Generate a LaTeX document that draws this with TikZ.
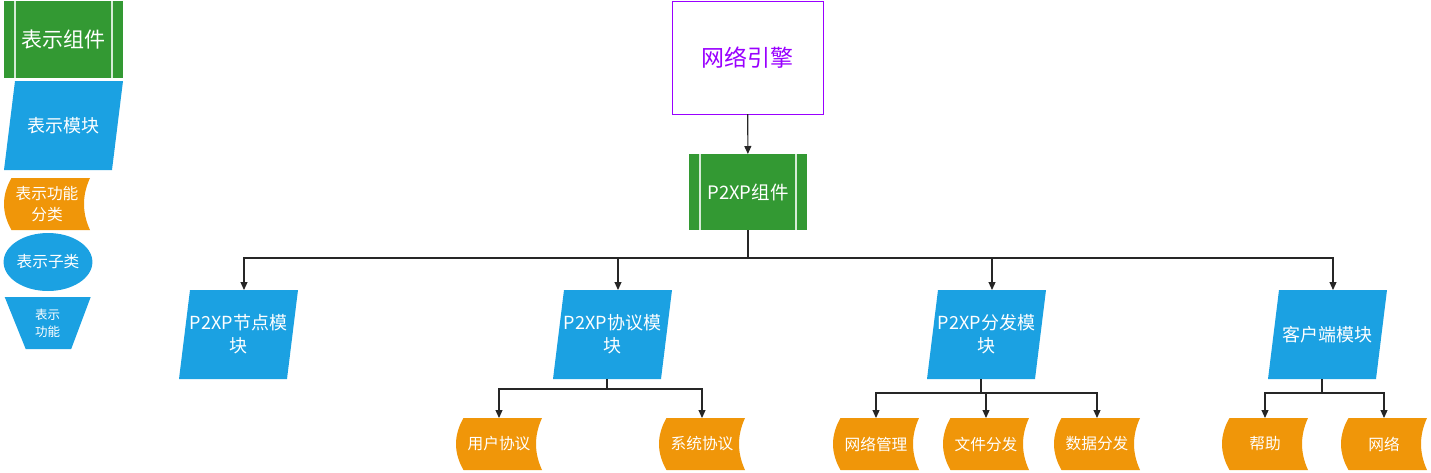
\documentclass[tikz,border=0pt]{standalone}
\usepackage{fontspec}
\setmainfont{Noto Sans CJK SC}
\usetikzlibrary{arrows.meta,shapes.geometric,calc}
\definecolor{cgreen}{HTML}{339933}
\definecolor{cblue}{HTML}{1BA1E2}
\definecolor{corange}{HTML}{F09609}
\definecolor{cpurple}{HTML}{9900FF}
\tikzset{
 base/.style={inner sep=0pt, outer sep=0pt, align=center, text=white},
 compbox/.style={base, fill=cgreen, path picture={\draw[white!80!cgreen, line width=1.5pt] let \p1=(path picture bounding box.north west), \p2=(path picture bounding box.south east) in (\x1+11pt,\y1) -- (\x1+11pt,\y2) (\x2-11pt,\y1) -- (\x2-11pt,\y2);}},
 modbox/.style={base, minimum width=119pt, minimum height=89pt, font=\fontsize{18}{23}\selectfont, path picture={\fill[cblue] let \p1=(path picture bounding box.north west), \p2=(path picture bounding box.south east) in (\x1+11pt,\y1) -- (\x2,\y1) -- (\x2-11pt,\y2) -- (\x1,\y2) -- cycle;}},
 storebox/.style={base, minimum width=86pt, minimum height=52pt, font=\fontsize{15.7}{21.7}\selectfont, path picture={\fill[corange] let \p1=(path picture bounding box.north west), \p2=(path picture bounding box.south east) in (\x1+7.5pt,\y1) -- (\x2,\y1) .. controls (\x2-8pt,\y1-17.3pt) and (\x2-8pt,\y2+17.3pt) .. (\x2,\y2) -- (\x1+7.5pt,\y2) .. controls (\x1-2.5pt,\y2+17.3pt) and (\x1-2.5pt,\y1-17.3pt) .. (\x1+7.5pt,\y1) -- cycle;}},
 subbox/.style={base, ellipse, fill=cblue, minimum width=88pt, minimum height=58pt, font=\fontsize{15.7}{20}\selectfont},
 funcbox/.style={base, minimum width=86pt, minimum height=52pt, font=\fontsize{12.5}{17}\selectfont, path picture={\fill[cblue] let \p1=(path picture bounding box.north west), \p2=(path picture bounding box.south east) in (\x1,\y1) -- (\x2,\y1) -- (\x2-19.5pt,\y2) -- (\x1+21pt,\y2) -- cycle;}},
 arr/.style={draw=black!85, line width=1.1pt, -{Triangle[width=7pt,length=8pt]}},
}
\begin{document}
\begin{tikzpicture}[x=1pt,y=-1pt]
\useasboundingbox (0,0) rectangle (1431,472);
% legend
\node[compbox, minimum width=119pt, minimum height=77pt, font=\fontsize{21}{25}\selectfont] (lg1) at (63.5,39.5) {表示组件};
\node[modbox] (lg2) at (63.5,125.5) {表示模块};
\node[storebox] (lg3) at (47,204) {表示功能\\分类};
\node[subbox] (lg4) at (48,262) {表示子类};
\node[funcbox] (lg5) at (47.7,323) {表示\\功能};
% main tree
\node[base, draw=cpurple, line width=1pt, minimum width=151pt, minimum height=113pt, text=cpurple, font=\fontsize{23}{28}\selectfont] (engine) at (747.5,57.5) {网络引擎};
\node[compbox, minimum width=118pt, minimum height=76pt, font=\fontsize{18.5}{23}\selectfont] (comp) at (748,192) {P2XP组件};
\draw[arr] (engine) -- (comp);
\node[modbox] (m1) at (238.5,334.5) {P2XP节点模\\块};
\node[modbox] (m2) at (612.5,334.5) {P2XP协议模\\块};
\node[modbox] (m3) at (986.5,334.5) {P2XP分发模\\块};
\node[modbox] (m4) at (1327.5,334.5) {客户端模块};
\foreach \m in {m1,m2,m3,m4} \draw[arr] (comp.south) -- ++(0,28) -| ([xshift=5.5pt]\m.north);
\node[storebox] (c1) at (499,444) {用户协议};
\node[storebox] (c2) at (702,444) {系统协议};
\node[storebox] (c3) at (876,444) {网络管理};
\node[storebox] (c4) at (986,444) {文件分发};
\node[storebox] (c5) at (1097,444) {数据分发};
\node[storebox] (c6) at (1265,444) {帮助};
\node[storebox] (c7) at (1384,444) {网络};
\foreach \c in {c1,c2} \draw[arr] ([xshift=-5.5pt]m2.south) -- ++(0,10) -| (\c.north);
\foreach \c in {c3,c4,c5} \draw[arr] ([xshift=-5.5pt]m3.south) -- ++(0,14) -| (\c.north);
\foreach \c in {c6,c7} \draw[arr] ([xshift=-5.5pt]m4.south) -- ++(0,14) -| (\c.north);
\end{tikzpicture}
\end{document}
